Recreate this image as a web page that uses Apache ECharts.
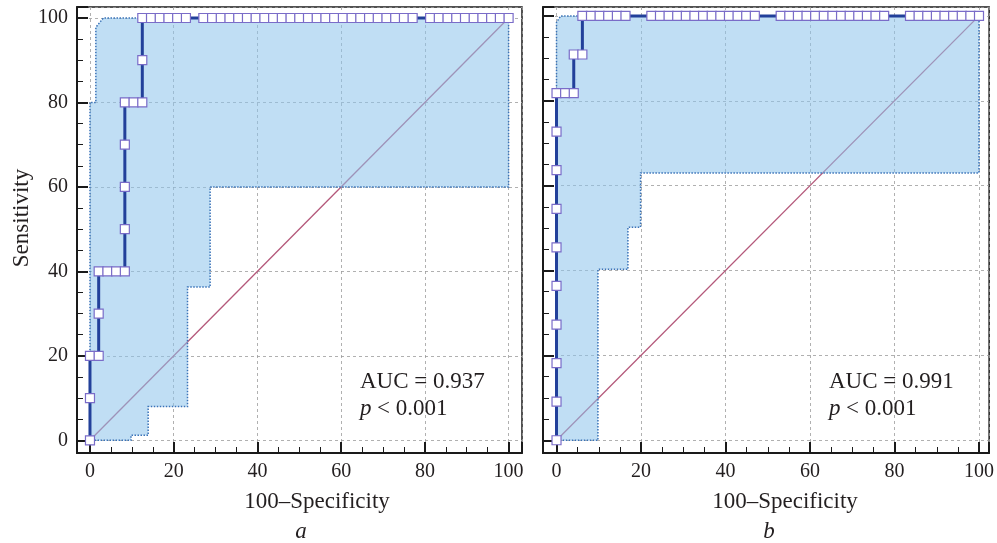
<!DOCTYPE html>
<html>
<head>
<meta charset="utf-8">
<script src="https://cdn.jsdelivr.net/npm/echarts@6/dist/echarts.min.js"></script>
<style>
html, body { margin: 0; padding: 0; background: #fff; }
#chart { width: 997px; height: 543px; }
</style>
</head>
<body>
<div id="chart"></div>
<script>
// panel a : ROC curve (100-specificity, sensitivity)
let rocA = [[0,0],[0,10],[0,20],[2.08,20],[2.08,30],[2.08,40],[4.17,40],[6.25,40],[8.33,40],
  [8.33,50],[8.33,60],[8.33,70],[8.33,80],[10.42,80],[12.5,80],[12.5,90],[12.5,100],
  [14.58,100],[16.67,100],[18.75,100],[20.83,100],[22.92,100],
  [27.08,100],[29.17,100],[31.25,100],[33.33,100],[35.42,100],[37.5,100],[39.58,100],[41.67,100],
  [43.75,100],[45.83,100],[47.92,100],[50,100],[52.08,100],[54.17,100],[56.25,100],[58.33,100],
  [60.42,100],[62.5,100],[64.58,100],[66.67,100],[68.75,100],[70.83,100],[72.92,100],[75,100],[77.08,100],
  [81.25,100],[83.33,100],[85.42,100],[87.5,100],[89.58,100],[91.67,100],[93.75,100],[95.83,100],[97.92,100],[100,100]]
// confidence band a (upper edge, lower edge)
let upperA = [[0,0],[0,80],[1.4,80],[1.4,97.8],[3.2,100],[100,100]]
let lowerA = [[0,0],[9.8,0],[9.8,1.2],[13.9,1.2],[13.9,8],[23.3,8],[23.3,36.3],[28.7,36.3],[28.7,60],[100,60],[100,100]]

// panel b
let rocB = [[0,0],[0,9.09],[0,18.18],[0,27.27],[0,36.36],[0,45.45],[0,54.55],[0,63.64],[0,72.73],[0,81.82],
  [2.04,81.82],[4.08,81.82],[4.08,90.91],[6.12,90.91],[6.12,100],
  [8.16,100],[10.2,100],[12.24,100],[14.29,100],[16.33,100],
  [22.45,100],[24.49,100],[26.53,100],[28.57,100],[30.61,100],[32.65,100],[34.69,100],[36.73,100],
  [38.78,100],[40.82,100],[42.86,100],[44.9,100],[46.94,100],
  [53.06,100],[55.1,100],[57.14,100],[59.18,100],[61.22,100],[63.27,100],[65.31,100],[67.35,100],
  [69.39,100],[71.43,100],[73.47,100],[75.51,100],[77.55,100],
  [83.67,100],[85.71,100],[87.76,100],[89.8,100],[91.84,100],[93.88,100],[95.92,100],[97.96,100],[100,100]]
let upperB = [[0,0],[0,98.5],[1,100],[100,100]]
let lowerB = [[0,0],[9.8,0],[9.8,40.3],[16.9,40.3],[16.9,50.2],[19.9,50.2],[19.9,63],[100,63],[100,100]]

let diag = [[0,0],[100,100]]
let tickLabels = ['0','20','40','60','80','100']
let aucA = 'AUC = 0.937', aucB = 'AUC = 0.991', pText = '< 0.001'

const FONT = 'Liberation Serif'
const INK = '#1a1a1a'

function valAxis(idx, min, max, labels) {
  return {
    type: 'value', gridIndex: idx, min: min, max: max,
    splitNumber: 5, minInterval: 20, maxInterval: 20,
    axisLine: { show: true, onZero: false, lineStyle: { color: INK, width: 2 } },
    axisTick: { show: true, inside: true, length: 11, lineStyle: { color: INK, width: 2 } },
    minorTick: { show: true, splitNumber: 4, length: 6, lineStyle: { color: INK, width: 1 } },
    splitLine: { show: true, lineStyle: { color: '#9c9c9c', width: 0.8, type: [3, 3] } },
    axisLabel: {
      show: labels, margin: 9, color: '#231f20', fontFamily: FONT, fontSize: 20,
      formatter: v => (tickLabels.indexOf(String(v)) >= 0 ? String(v) : '')
    }
  }
}

// light blue confidence band, drawn over the diagonal so it tints it
function band(upper, lower, idx) {
  let pts = upper.concat(lower.slice().reverse())
  return {
    type: 'custom', xAxisIndex: idx, yAxisIndex: idx, z: 2, silent: true,
    data: [[0, 0]],
    renderItem: function (params, api) {
      return {
        type: 'polygon',
        shape: { points: pts.map(p => api.coord(p)) },
        style: { fill: 'rgba(140,195,235,0.55)', stroke: '#3a73b8', lineWidth: 1.5, lineDash: [1.5, 1.5] }
      }
    }
  }
}

function diagLine(idx) {
  return {
    type: 'line', xAxisIndex: idx, yAxisIndex: idx, data: diag, symbol: 'none', z: 1, silent: true,
    lineStyle: { color: '#b4587a', width: 1.3 }
  }
}

function roc(data, idx) {
  return {
    type: 'line', xAxisIndex: idx, yAxisIndex: idx, data: data, z: 3, silent: true,
    symbol: 'rect', symbolSize: 9, showAllSymbol: true,
    lineStyle: { color: '#22409a', width: 3 },
    itemStyle: { color: '#fff', borderColor: '#7a6cc8', borderWidth: 1.2 }
  }
}

function txt(x, y, text, opts) {
  opts = opts || {}
  return {
    type: 'text', x: x, y: y, rotation: opts.rotation || 0,
    style: {
      text: text, fill: '#231f20',
      font: (opts.italic ? 'italic ' : '') + '23px "' + FONT + '"',
      textAlign: opts.align || 'left', textVerticalAlign: 'middle'
    }
  }
}

let chart = echarts.init(document.getElementById('chart'), null, { renderer: 'canvas' })
chart.setOption({
  animation: false,
  grid: [
    { left: 77, top: 7, width: 445, height: 446, show: true, borderColor: INK, borderWidth: 1.5 },
    { left: 543, top: 7, width: 447, height: 446, show: true, borderColor: INK, borderWidth: 1.5 }
  ],
  xAxis: [valAxis(0, -3.1, 103.2, true), valAxis(1, -3.2, 102.4, true)],
  yAxis: [valAxis(0, -3, 102.6, true), valAxis(1, -3, 102.1, false)],
  series: [
    diagLine(0), band(upperA, lowerA, 0), roc(rocA, 0),
    diagLine(1), band(upperB, lowerB, 1), roc(rocB, 1)
  ],
  graphic: [
    txt(22, 218, 'Sensitivity', { rotation: Math.PI / 2, align: 'center' }),
    txt(317, 502, '100\u2013Specificity', { align: 'center' }),
    txt(785, 502, '100\u2013Specificity', { align: 'center' }),
    txt(301, 532, 'a', { italic: true, align: 'center' }),
    txt(769, 532, 'b', { italic: true, align: 'center' }),
    txt(360, 382, aucA),
    txt(360, 409, 'p', { italic: true }),
    txt(377, 409, pText),
    txt(829, 382, aucB),
    txt(829, 409, 'p', { italic: true }),
    txt(846, 409, pText)
  ]
})
</script>
</body>
</html>
